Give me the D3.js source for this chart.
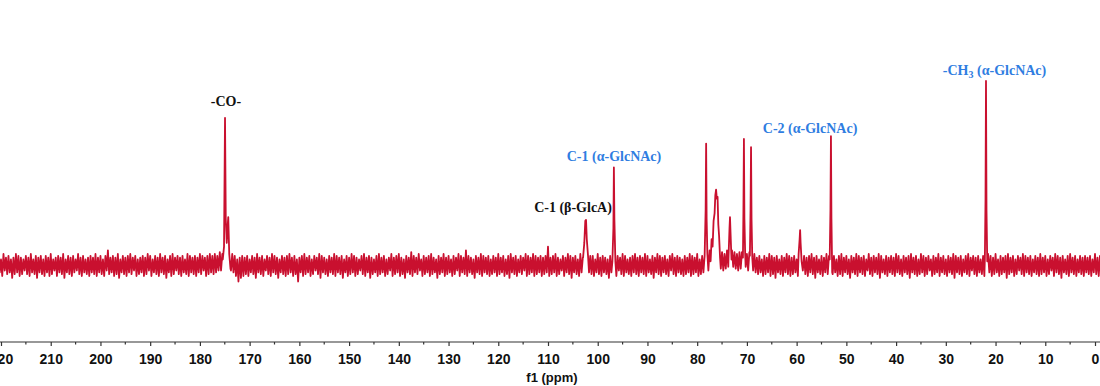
<!DOCTYPE html>
<html>

<head>
    <meta charset="UTF-8">
    <style>
        body { margin: 0; background: #fff; }
        svg { display: block; }
    </style>
</head>

<body>
    <svg></svg>
    <script src="https://d3js.org/d3.v7.min.js"></script>

    <script>
        const width = 1100, height = 386;

        // baseline grid: 221 -> -1 ppm, 0.5 ppm per step
        const ppmStart = 221, ppmStep = 0.5;

        // noise envelope of the baseline, in 0.01 intensity units
        // noiseTop at each grid ppm, noiseBottom a quarter step further upfield
        const noiseTop = [
            4,5,3,6,4,5,3,4,6,5,4,3,5,4,6,3,5,4,5,3,
            5,4,6,3,4,5,4,6,3,5,4,5,3,6,4,5,3,4,5,4,
            6,4,5,3,5,8,4,5,4,6,3,5,4,5,6,4,5,3,4,5,
            4,6,5,3,5,4,6,4,5,3,5,6,4,5,4,5,3,6,5,4,
            5,4,6,5,4,5,6,5,6,5,7,6,5,6,7,6,5,3,4,5,
            4,5,3,5,4,6,4,5,3,5,4,6,5,4,3,5,4,5,6,4,
            5,3,4,5,6,4,5,3,5,4,6,5,4,3,5,4,6,5,4,5,
            3,5,4,6,5,4,3,5,6,4,5,4,3,5,6,4,5,3,4,6,
            4,5,6,4,3,5,4,7,5,4,6,3,5,4,5,6,4,3,5,4,
            6,4,5,3,5,4,6,5,4,8,5,4,3,5,4,6,5,4,5,3,
            5,4,6,4,5,3,5,6,4,5,3,5,4,6,5,4,6,5,4,5,
            4,5,10,4,5,6,4,3,5,4,6,5,4,5,3,6,4,5,4,5,
            5,3,6,4,5,4,3,5,6,4,5,4,6,5,3,4,5,6,4,5,
            4,6,5,3,5,4,6,5,4,5,3,5,6,4,5,4,3,5,4,6,
            5,4,6,3,5,4,6,7,8,9,10,8,7,6,8,7,8,7,6,7,
            7,8,6,7,5,6,4,5,3,5,4,6,5,4,5,3,5,4,6,5,
            4,5,3,6,8,5,4,5,6,4,5,3,5,4,6,5,4,5,3,5,
            6,4,5,3,5,4,6,5,4,5,3,6,4,5,4,6,5,3,5,4,
            5,4,6,5,3,5,4,5,6,4,5,3,6,5,4,5,3,5,4,6,
            4,5,3,5,4,6,5,4,5,3,5,6,4,5,4,5,3,5,4,6,
            5,4,6,3,5,4,5,6,4,5,3,5,4,6,5,4,5,3,5,4,
            6,4,5,3,5,4,6,5,4,5,3,5,6,4,5,3,5,4,5,4,
            5,3,6,4,5
        ];
        const noiseBottom = [
            -5,-4,-6,-3,-5,-4,-7,-5,-4,-6,-5,-3,-5,-6,-4,-5,-7,-4,-5,-6,
            -4,-6,-5,-3,-6,-4,-5,-7,-4,-5,-6,-4,-3,-5,-6,-4,-5,-6,-4,-5,
            -6,-4,-5,-6,-3,-5,-4,-6,-5,-7,-4,-5,-6,-4,-5,-3,-6,-5,-4,-6,
            -5,-3,-6,-4,-5,-6,-4,-5,-7,-4,-6,-5,-3,-5,-6,-4,-5,-6,-4,-5,
            -6,-4,-5,-3,-6,-5,-4,-5,-4,-3,-3,-2,-3,-2,-3,-4,-6,-9,-7,-6,
            -5,-6,-4,-5,-7,-4,-5,-6,-3,-5,-6,-4,-5,-7,-4,-5,-6,-5,-4,-6,
            -5,-9,-4,-6,-5,-4,-6,-5,-3,-5,-7,-4,-5,-6,-4,-5,-6,-4,-5,-7,
            -4,-6,-5,-4,-6,-5,-3,-5,-6,-4,-7,-5,-4,-6,-5,-4,-6,-5,-3,-6,
            -5,-4,-6,-5,-7,-4,-5,-6,-4,-5,-3,-6,-5,-4,-6,-5,-4,-7,-5,-4,
            -6,-5,-4,-6,-5,-3,-6,-4,-5,-6,-4,-5,-7,-4,-5,-6,-4,-5,-6,-5,
            -4,-6,-5,-4,-6,-5,-7,-4,-5,-6,-4,-5,-3,-6,-5,-4,-6,-5,-4,-6,
            -5,-4,-6,-5,-4,-6,-5,-3,-6,-4,-5,-7,-4,-5,-6,-4,-5,-6,-4,-5,
            -6,-4,-5,-6,-4,-5,-7,-4,-5,-6,-3,-5,-6,-4,-5,-6,-4,-5,-6,-4,
            -5,-6,-4,-5,-7,-4,-5,-6,-4,-5,-6,-3,-5,-6,-4,-5,-6,-5,-4,-6,
            -5,-4,-6,-5,-4,-6,-3,-2,-1,-1,0,-2,-3,-2,-1,-2,-1,-2,-3,-2,
            -2,-1,-3,-2,-3,-4,-5,-4,-6,-5,-4,-6,-5,-7,-4,-5,-6,-4,-5,-6,
            -5,-4,-6,-4,-3,-5,-6,-4,-5,-7,-4,-5,-6,-4,-5,-6,-5,-4,-6,-5,
            -6,-4,-5,-7,-4,-5,-6,-4,-5,-6,-3,-5,-6,-4,-5,-7,-4,-5,-6,-4,
            -5,-6,-4,-5,-6,-4,-5,-7,-4,-5,-6,-5,-4,-6,-5,-3,-6,-5,-4,-6,
            -4,-5,-6,-4,-5,-7,-4,-5,-6,-4,-5,-6,-3,-5,-6,-4,-5,-6,-5,-4,
            -6,-5,-4,-6,-5,-4,-7,-5,-4,-6,-5,-3,-5,-6,-4,-5,-6,-4,-5,-6,
            -5,-4,-6,-5,-3,-6,-4,-5,-7,-4,-5,-6,-4,-5,-6,-4,-5,-6,-4,-5,
            -6,-4,-5,-6,-4
        ];

        // peak profiles: [ppm, intensity]
        const peakCO = [[175.4,0.03],[175.15,0.10],[174.95,0.80],[174.8,0.25],[174.6,0.12],[174.45,0.20],[174.3,0.26],[174.1,0.06],[173.85,-0.02]];
        const peakGlcA1 = [[102.95,0.04],[102.7,0.12],[102.5,0.24],[102.35,0.245],[102.2,0.14],[101.95,0.05]];
        const peakGlcNAc1 = [[97.05,0.02],[96.85,0.2],[96.75,0.53],[96.65,0.25],[96.45,0.02]];
        const peak78 = [[78.5,0.05],[78.3,0.3],[78.2,0.66],[78.1,0.25],[77.95,0.06]];
        const peak76 = [[77.5,0.08],[77.3,0.02],[77.1,0.14],[76.9,0.10],[76.7,0.24],[76.5,0.28],[76.35,0.38],[76.2,0.41],[76.05,0.36],[75.9,0.37],[75.75,0.22],[75.6,0.16],[75.4,0.04]];
        const peak73 = [[73.7,0.04],[73.5,0.2],[73.4,0.26],[73.3,0.18],[73.1,0.03]];
        const peak70 = [[70.8,0.04],[70.7,0.3],[70.6,0.685],[70.5,0.25],[70.35,0.06]];
        const peak69 = [[69.4,0.05],[69.27,0.3],[69.17,0.64],[69.07,0.25],[68.92,0.04]];
        const peak59 = [[59.6,0.06],[59.4,0.14],[59.3,0.19],[59.2,0.12],[59.0,0.02]];
        const peakGlcNAc2 = [[53.35,0.03],[53.2,0.3],[53.1,0.70],[53.0,0.25],[52.85,-0.04]];
        const peakCH3 = [[22.15,0.03],[22.02,0.35],[21.92,1.0],[21.82,0.3],[21.67,0.02]];
        const peaks = [peakCO, peakGlcA1, peakGlcNAc1, peak78, peak76, peak73, peak70, peak69, peak59, peakGlcNAc2, peakCH3];

        // annotations
        const labelText = ["-CO-", "C-1 (β-GlcA)", "C-1 (α-GlcNAc)", "C-2 (α-GlcNAc)", "-CH3 (α-GlcNAc)"];
        const labelPpm = [174.75, 104.97, 96.73, 57.3, 20.2];
        const labelLevel = [0.865, 0.29, 0.565, 0.715, 1.03];
        const labelBlue = [false, false, true, true, true];

        const tickValues = d3.range(0, 221, 10);
        const minorTicks = d3.range(5, 220, 10);

        const red = "#c9102f";
        const blue = "#2f7de1";

        let svg = d3.select("svg")
            .attr("width", width)
            .attr("height", height);

        const x = d3.scaleLinear().domain([220, 0]).range([1, 1095]);
        const y = d3.scaleLinear().domain([0, 1]).range([265, 81]);

        // build the trace: noise envelope on the grid, peak regions swapped in
        let pts = [];
        noiseTop.forEach((v, i) => {
            const p = ppmStart - i * ppmStep;
            pts.push([p, v / 100]);
            pts.push([p - ppmStep / 2, noiseBottom[i] / 100]);
        });
        peaks.forEach(p => {
            const hi = p[0][0], lo = p[p.length - 1][0];
            pts = pts.filter(d => d[0] > hi || d[0] < lo);
            pts = pts.concat(p);
        });
        pts.sort((a, b) => b[0] - a[0]);

        const line = d3.line()
            .x(d => x(d[0]))
            .y(d => y(d[1]));

        svg.append("path")
            .datum(pts)
            .attr("fill", "none")
            .attr("stroke", red)
            .attr("stroke-width", 1.8)
            .attr("stroke-linejoin", "round")
            .attr("d", line);

        // x axis
        const axisY = 342;
        const xAxis = d3.axisBottom(x)
            .tickValues(tickValues)
            .tickFormat(d3.format("d"))
            .tickSize(4)
            .tickPadding(8)
            .tickSizeOuter(0);

        const gx = svg.append("g")
            .attr("transform", "translate(0," + axisY + ")")
            .call(xAxis);
        gx.select(".domain").remove();
        gx.append("line")
            .attr("x1", 0).attr("x2", width)
            .attr("stroke", "#333").attr("stroke-width", 1.2);
        gx.selectAll(".tick line").attr("stroke", "#333").attr("stroke-width", 1.2);
        gx.selectAll(".tick text")
            .attr("fill", "#111")
            .style("font-family", "Liberation Sans, Arial, sans-serif")
            .style("font-weight", "bold")
            .style("font-size", "14px");

        gx.selectAll(".minor")
            .data(minorTicks)
            .enter()
            .append("line")
            .attr("class", "minor")
            .attr("x1", d => x(d)).attr("x2", d => x(d))
            .attr("y1", 0).attr("y2", 2.5)
            .attr("stroke", "#333").attr("stroke-width", 1.2);

        svg.append("text")
            .attr("x", x(110) + 4)
            .attr("y", 382)
            .attr("text-anchor", "middle")
            .attr("fill", "#111")
            .style("font-family", "Liberation Sans, Arial, sans-serif")
            .style("font-weight", "bold")
            .style("font-size", "13px")
            .text("f1 (ppm)");

        // peak labels
        labelText.forEach((t, i) => {
            const txt = svg.append("text")
                .attr("x", x(labelPpm[i]))
                .attr("y", y(labelLevel[i]))
                .attr("text-anchor", "middle")
                .attr("fill", labelBlue[i] ? blue : "#111")
                .style("font-family", "Liberation Serif, Times New Roman, serif")
                .style("font-weight", "bold")
                .style("font-size", "14px");
            if (t.indexOf("CH3") >= 0) {
                txt.append("tspan").text("-CH");
                txt.append("tspan").attr("dy", 3).style("font-size", "10px").text("3");
                txt.append("tspan").attr("dy", -3).text(" (α-GlcNAc)");
            } else {
                txt.text(t);
            }
        });
    </script>

</body>

</html>
